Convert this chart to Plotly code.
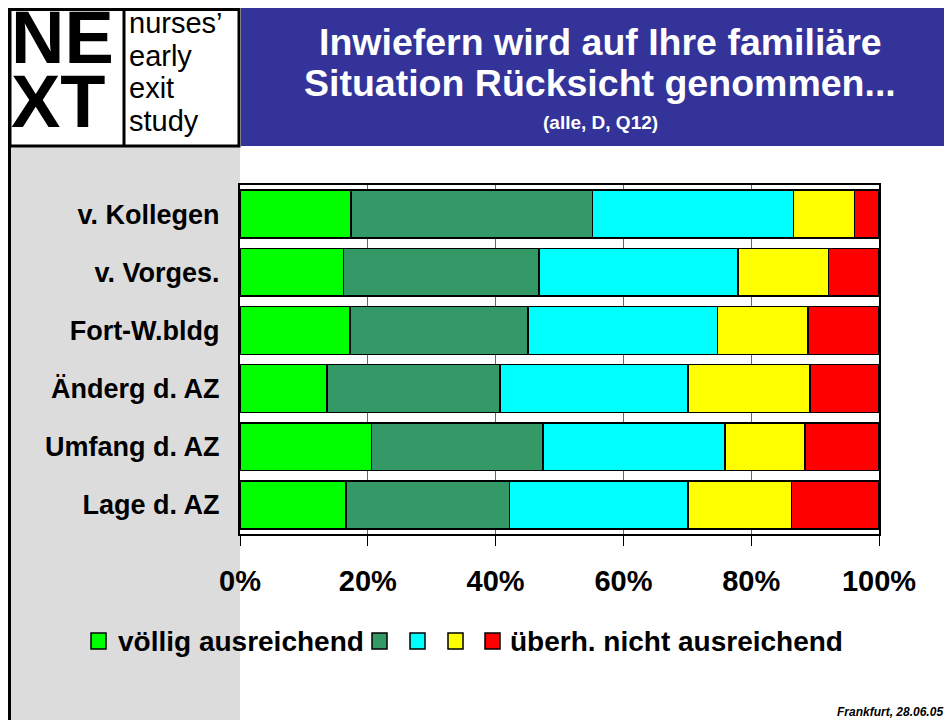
import plotly.graph_objects as go

categories = ["v. Kollegen", "v. Vorges.", "Fort-W.bldg", "Änderg d. AZ", "Umfang d. AZ", "Lage d. AZ"]
series_names = ["völlig ausreichend", "", "", "", "überh. nicht ausreichend"]
s1 = [17.4, 16.2, 17.2, 13.6, 20.6, 16.6]
s2 = [37.8, 30.6, 27.9, 27.1, 26.8, 25.6]
s3 = [31.4, 31.1, 29.6, 29.4, 28.5, 27.9]
s4 = [9.6, 14.2, 14.2, 19.1, 12.5, 16.2]
s5 = [3.8, 7.9, 11.1, 10.8, 11.6, 13.7]
colors = ["#00FF00", "#339966", "#00FFFF", "#FFFF00", "#FF0000"]
tick_vals = [0, 20, 40, 60, 80, 100]
tick_text = ["0%", "20%", "40%", "60%", "80%", "100%"]

W, H = 952, 720
OFF = 8  # page body margin
# plot area in page pixels
L, R, T, B = 240, 879, 185, 534
FONT = "Liberation Sans, Arial, sans-serif"

def px(X):
    return (X - L) / (R - L)

def py(Y):
    return (B - Y) / (B - T)

fig = go.Figure()
for name, vals, col in zip(series_names, [s1, s2, s3, s4, s5], colors):
    fig.add_trace(go.Bar(
        y=categories, x=vals, name=name, orientation="h",
        marker=dict(color=col, line=dict(color="black", width=1.5)),
        hoverinfo="x+y", showlegend=False,
    ))

shapes = []
# gray left panel
shapes.append(dict(type="rect", xref="paper", yref="paper", x0=px(OFF), x1=px(240), y0=py(730), y1=py(146),
                   fillcolor="#DCDCDC", line=dict(width=0), layer="below"))
# blue title band
shapes.append(dict(type="rect", xref="paper", yref="paper", x0=px(241), x1=px(965), y0=py(146), y1=py(8),
                   fillcolor="#333399", line=dict(width=0), layer="below"))
# logo box
shapes.append(dict(type="rect", xref="paper", yref="paper", x0=px(OFF + 2), x1=px(239), y0=py(146), y1=py(9.5),
                   fillcolor="white", line=dict(color="black", width=3), layer="below"))
shapes.append(dict(type="line", xref="paper", yref="paper", x0=px(124), x1=px(124), y0=py(146), y1=py(9.5),
                   line=dict(color="black", width=3), layer="below"))
# left black edge
shapes.append(dict(type="line", xref="paper", yref="paper", x0=px(OFF + 1.5), x1=px(OFF + 1.5), y0=py(730), y1=py(8),
                   line=dict(color="black", width=3), layer="below"))

annotations = []
def ann(text, X, Y, size, color="black", bold=True, italic=False, xanchor="center", family=FONT):
    t = text
    if bold:
        t = "<b>" + t + "</b>"
    if italic:
        t = "<i>" + t + "</i>"
    annotations.append(dict(text=t, x=px(X), y=py(Y), xref="paper", yref="paper", showarrow=False,
                            xanchor=xanchor, yanchor="middle", font=dict(size=size, color=color, family=family)))

ann("NE", 9, 37, 74, xanchor="left")
ann("XT", 9, 101, 74, xanchor="left")
for i, w in enumerate(["nurses’", "early", "exit", "study"]):
    ann(w, 127, 23 + i * 32.5, 29, bold=False, xanchor="left")

ann("Inwiefern wird auf Ihre familiäre", 600, 42, 37.5, color="white")
ann("Situation Rücksicht genommen...", 600, 83, 37.5, color="white")
ann("(alle, D, Q12)", 600, 123, 19, color="white")
ann("Frankfurt, 28.06.05", 945, 712, 12, italic=True, xanchor="right")

# manual legend: swatches and labels
legend_sq_x = [91, 372, 410, 448, 485]
LEG_Y = 641
for xs, col in zip(legend_sq_x, colors):
    shapes.append(dict(type="rect", xref="paper", yref="paper", x0=px(xs), x1=px(xs + 15),
                       y0=py(LEG_Y + 8), y1=py(LEG_Y - 8), fillcolor=col,
                       line=dict(color="black", width=1.5)))
ann(series_names[0], 116, LEG_Y, 28, xanchor="left")
ann(series_names[4], 508, LEG_Y, 28, xanchor="left")

fig.update_layout(
    width=W, height=H,
    margin=dict(l=L - OFF, r=W - (R - OFF), t=T - OFF, b=H - (B - OFF), pad=0, autoexpand=False),
    barmode="stack", bargap=0.18,
    paper_bgcolor="white", plot_bgcolor="white",
    font=dict(family=FONT, color="black"),
    shapes=shapes, annotations=annotations,
    showlegend=False,
    xaxis=dict(range=[0, 100], tickvals=tick_vals, ticktext=[f"<b>{t}</b>" for t in tick_text],
               tickfont=dict(size=29, family=FONT, color="black"),
               showgrid=True, gridcolor="#666666", gridwidth=1,
               showline=True, linecolor="black", linewidth=2, mirror=True,
               ticks="outside", ticklen=10, tickcolor="black", tickwidth=1,
               ticklabelstandoff=10, zeroline=False, fixedrange=True),
    yaxis=dict(categoryorder="array", categoryarray=categories, autorange="reversed",
               tickvals=categories, ticktext=[f"<b>{c}</b>" for c in categories],
               tickfont=dict(size=27, family=FONT, color="black"),
               showline=True, linecolor="black", linewidth=2, mirror=True,
               ticks="", ticklabelstandoff=13, showgrid=False, fixedrange=True),
)

fig.write_html("out.html")
